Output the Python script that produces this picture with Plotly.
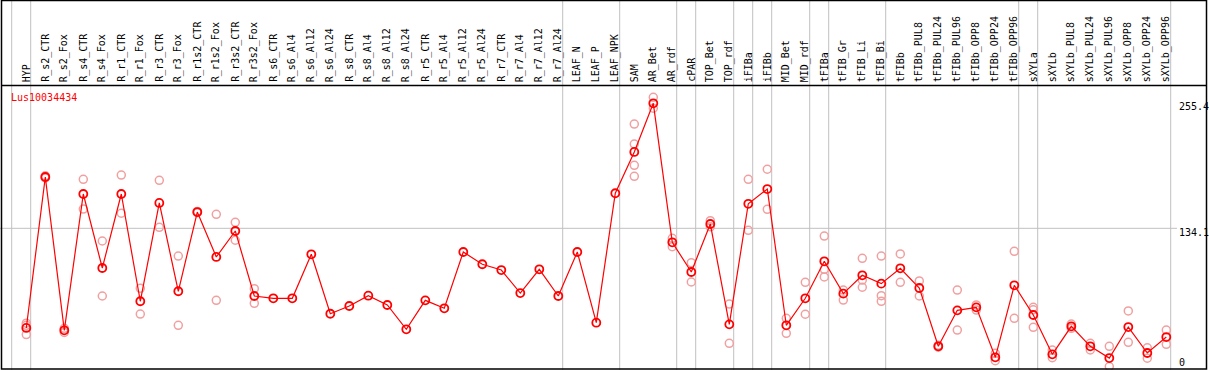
import plotly.graph_objects as go

categories = ["HYP", "R_s2_CTR", "R_s2_Fox", "R_s4_CTR", "R_s4_Fox", "R_r1_CTR", "R_r1_Fox",
              "R_r3_CTR", "R_r3_Fox", "R_r1s2_CTR", "R_r1s2_Fox", "R_r3s2_CTR", "R_r3s2_Fox",
              "R_s6_CTR", "R_s6_Al4", "R_s6_Al12", "R_s6_Al24", "R_s8_CTR", "R_s8_Al4",
              "R_s8_Al12", "R_s8_Al24", "R_r5_CTR", "R_r5_Al4", "R_r5_Al12", "R_r5_Al24",
              "R_r7_CTR", "R_r7_Al4", "R_r7_Al12", "R_r7_Al24", "LEAF_N", "LEAF_P", "LEAF_NPK",
              "SAM", "AR_Bet", "AR_rdf", "cPAR", "TOP_Bet", "TOP_rdf", "iFIBa", "iFIBb",
              "MID_Bet", "MID_rdf", "tFIBa", "tFIB_Gr", "tFIB_Li", "tFIB_Bi", "tFIBb",
              "tFIBb_PUL8", "tFIBb_PUL24", "tFIBb_PUL96", "tFIBb_OPP8", "tFIBb_OPP24",
              "tFIBb_OPP96", "sXYLa", "sXYLb", "sXYLb_PUL8", "sXYLb_PUL24", "sXYLb_PUL96",
              "sXYLb_OPP8", "sXYLb_OPP24", "sXYLb_OPP96"]

means = [37.4, 183.9, 35.1, 167.4, 95.6, 167.4, 63.3, 158.7, 73.0, 149.9, 106.3, 131.5, 68.4,
         66.2, 66.2, 108.9, 51.2, 58.7, 68.7, 59.7, 36.1, 64.2, 56.5, 111.1, 99.2,
         93.6, 71.3, 94.3, 68.4, 111.1, 42.5, 168.1,
         208.2, 255.4, 120.5, 91.7, 138.3, 40.9, 157.9, 172.2,
         40.0, 66.2, 102.1, 70.7, 88.5, 80.4, 95.3,
         76.2, 19.6, 54.5, 57.4, 8.9, 78.8,
         50.0, 11.8, 39.0, 19.6, 8.2, 38.3, 13.1, 28.6]

replicates = [[42, 40, 31], [185, 183], [37, 33], [181.6, 152.8], [121.8, 68.4],
              [185.8, 148.7], [75.9, 50.9], [180.7, 135.1], [107.2, 40.0], [150.5, 149.3],
              [147.7, 64.2], [139.9, 122.5], [75.5, 61.3],
              [], [], [], [], [], [], [], [], [], [], [], [], [], [], [], [], [], [], [],
              [235.3, 215.9, 195.2, 184.6], [261.2, 250.6], [124.4, 116.3], [100.7, 82.0],
              [141.5, 135.5], [60.6, 22.5], [181.6, 132.2], [191.4, 152.5],
              [46.8, 32.2], [81.7, 50.7], [126.6, 94.3, 86.9], [74.2, 64.5],
              [105.0, 83.9, 76.9], [107.2, 68.7, 63.3], [109.2, 81.7],
              [83.0, 68.4], [20.5, 18.7], [74.2, 35.4], [59.7, 54.8], [12.8, 5.6], [111.8, 46.8],
              [57.4, 55.0, 38.0], [16.0, 8.5], [41.2, 37.0], [22.5, 16.0], [19.6, 0],
              [53.9, 23.5], [18.2, 8.0], [35.4, 21.5]]

group_ends = [-1, 0, 28, 31, 34, 35, 37, 38, 39, 41, 42, 45, 52, 53, 60]
y_ticks = [255.4, 134.1, 0]
y_tick_text = ["255.4", "134.1", "0"]
gene = "Lus10034434"

W, H = 1209, 370
FONT = "DejaVu Sans Mono"
STEP = 19.0
X0 = 26.3
xr = [-X0 / STEP, (W - X0) / STEP]
# pixel mapping: y_px = 366.5 - 1.0305 * v
yscale = 1.0305
y0px = 366.5
yr = [(y0px - H) / yscale, y0px / yscale]

def px(x):
    return x / W

def py(y):
    return 1 - y / H

rx, ry = [], []
for i, reps in enumerate(replicates):
    for v in reps:
        rx.append(i)
        ry.append(v)

fig = go.Figure()
fig.add_trace(go.Scatter(x=rx, y=ry, mode="markers",
                         marker=dict(symbol="circle-open", size=8, color="#F0A0A0",
                                     line=dict(width=1.5, color="#F0A0A0")),
                         hoverinfo="skip", showlegend=False))
fig.add_trace(go.Scatter(x=list(range(len(categories))), y=means, mode="lines+markers",
                         line=dict(color="#FF0000", width=1.2),
                         marker=dict(symbol="circle-open", size=8, color="#FF0000",
                                     line=dict(width=1.8, color="#FF0000")),
                         showlegend=False))

shapes = []
for k in group_ends:
    xv = k + 4.4 / STEP
    shapes.append(dict(type="line", xref="x", yref="paper", x0=xv, x1=xv, y0=0, y1=1,
                       line=dict(color="#C0C0C0", width=1), layer="below"))
shapes.append(dict(type="line", xref="paper", yref="y", x0=0, x1=px(1177), y0=134.1, y1=134.1,
                   line=dict(color="#C0C0C0", width=1), layer="below"))
# frame
shapes.append(dict(type="rect", xref="paper", yref="paper", x0=px(1.5), x1=px(1206.5),
                   y0=py(369), y1=py(0.5), line=dict(color="black", width=1.5)))
shapes.append(dict(type="line", xref="paper", yref="paper", x0=px(1.5), x1=px(1206.5),
                   y0=py(85.5), y1=py(85.5), line=dict(color="black", width=1.5)))

annotations = []
for i, c in enumerate(categories):
    annotations.append(dict(x=i, xref="x", y=py(84), yref="paper", text=c, textangle=-90,
                            showarrow=False, xanchor="center", yanchor="bottom",
                            font=dict(family=FONT, size=10, color="black")))
annotations.append(dict(x=px(8.5), xref="paper", y=py(97.7), yref="paper", text=gene,
                        showarrow=False, xanchor="left", yanchor="middle",
                        font=dict(family=FONT, size=10, color="#FF0000")))
label_centers = [106.7, 232.3, 362.0]
for t, cy in zip(y_tick_text, label_centers):
    annotations.append(dict(x=px(1177), xref="paper", y=py(cy), yref="paper", text=t,
                            showarrow=False, xanchor="left", yanchor="middle",
                            font=dict(family=FONT, size=10, color="black")))

fig.update_layout(width=W, height=H, margin=dict(l=0, r=0, t=0, b=0),
                  paper_bgcolor="white", plot_bgcolor="white",
                  xaxis=dict(range=xr, visible=False, fixedrange=True),
                  yaxis=dict(range=yr, visible=False, fixedrange=True),
                  shapes=shapes, annotations=annotations, showlegend=False)
fig.write_html("out.html", config={"displayModeBar": False},
               post_script="document.body.style.margin='0';document.body.style.overflow='hidden';")
